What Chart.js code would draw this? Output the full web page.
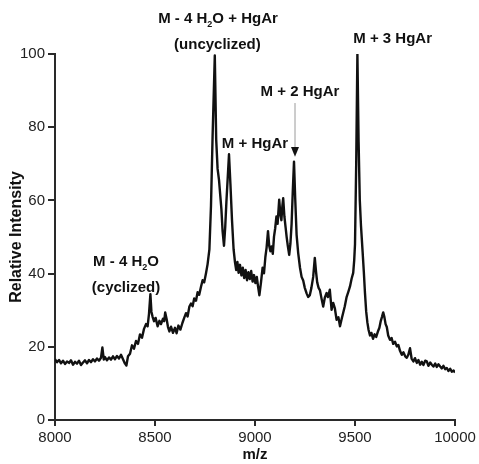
<!DOCTYPE html>
<html>
<head>
<meta charset="utf-8">
<script src="https://cdn.jsdelivr.net/npm/chart.js@4.4.0/dist/chart.umd.min.js"></script>
<style>
  html, body { margin: 0; padding: 0; background: #ffffff; }
  #wrap { width: 479px; height: 464px; }
</style>
</head>
<body>
<div id="wrap"><canvas id="c" width="479" height="464"></canvas></div>
<script>
// ---- data ----
const mzValues = [
  8000,8010,8020,8030,8040,8050,8060,8070,8080,8090,8100,8110,8120,8130,8140,8150,8160,8170,8180,8190,
  8200,8210,8220,8230,8237,8244,8250,8260,8270,8280,8290,8300,8310,8320,8330,8340,8350,8357,8365,8375,
  8385,8395,8405,8415,8425,8435,8445,8455,8463,8470,8477,8482,8488,8495,8503,8513,8522,8530,8540,8546,
  8551,8558,8565,8572,8580,8590,8600,8608,8617,8627,8637,8646,8655,8663,8672,8680,8688,8696,8705,8713,
  8721,8730,8738,8746,8755,8763,8772,8780,8788,8799,8806,8813,8820,8826,8832,8838,8845,8851,8857,8864,
  8870,8877,8885,8893,8900,8906,8912,8918,8925,8932,8939,8946,8953,8960,8967,8974,8981,8988,8995,9002,
  9009,9015,9022,9030,9038,9045,9052,9058,9065,9071,9077,9083,9089,9095,9101,9107,9113,9121,9127,9132,
  9137,9141,9147,9153,9158,9164,9171,9177,9183,9189,9195,9201,9208,9216,9225,9233,9241,9249,9258,9266,
  9274,9282,9291,9299,9305,9311,9318,9325,9333,9341,9349,9358,9365,9374,9383,9391,9399,9408,9417,9425,
  9433,9441,9449,9458,9467,9475,9483,9491,9496,9500,9506,9512,9518,9524,9530,9538,
  9544,9550,9556,9562,9568,9575,9582,9590,9598,9606,9614,9622,9629,9635,9641,9647,9653,9659,9666,9675,
  9683,9691,9700,9709,9717,9725,9734,9742,9751,9759,9767,9775,9783,9792,9800,9809,9817,9826,9834,9842,
  9851,9859,9867,9876,9884,9892,9901,9909,9917,9926,9934,9942,9951,9959,9967,9976,9984,9993,10000
];
const intensityValues = [
  16.6,15.8,16.4,15.5,16.2,15.3,16.0,15.6,16.3,15.1,15.9,15.4,16.2,15.0,15.7,16.3,15.5,16.4,15.8,16.6,
  16.0,16.8,16.2,17.0,19.8,16.5,17.2,16.3,17.1,16.5,17.4,16.6,17.5,16.8,17.8,16.6,15.4,14.9,17.4,18.1,
  20.4,19.5,21.6,20.8,23.4,22.5,24.9,26.2,25.6,29.0,34.4,29.6,28.2,27.0,27.9,25.6,27.1,26.2,27.7,27.0,
  29.4,27.6,25.4,24.2,25.5,23.8,25.2,23.7,25.8,24.7,26.5,27.9,29.2,28.3,31.0,31.8,31.1,33.2,32.6,34.9,
  34.2,36.4,38.2,37.6,40.1,42.6,46.6,58.6,77.6,99.6,76.6,68.6,65.6,61.6,57.6,51.6,47.6,52.6,59.6,66.6,
  72.6,64.6,54.6,46.6,43.1,41.0,43.2,40.2,42.4,39.5,41.6,38.8,41.0,38.2,40.4,38.5,40.7,37.8,39.6,37.4,
  39.1,36.6,34.1,37.6,41.6,40.1,44.6,47.1,51.6,47.6,46.1,47.4,45.4,50.1,52.4,55.6,53.6,60.2,56.1,54.6,
  58.6,60.6,55.6,52.6,50.1,47.6,45.1,48.1,53.6,62.6,70.6,60.6,50.6,45.6,41.6,39.1,38.1,36.1,34.6,33.6,
  34.1,36.1,39.1,44.3,40.6,37.6,36.1,35.4,33.1,31.0,33.4,34.7,33.6,35.6,30.1,32.0,30.6,27.4,28.1,25.6,
  27.5,29.3,31.1,33.6,35.1,36.5,38.6,40.2,43.6,48.0,70.0,100.0,76.0,60.0,53.0,46.0,
  40.6,34.6,29.6,26.6,24.6,23.1,23.8,22.2,23.4,22.7,24.1,25.2,27.1,28.2,29.4,28.1,26.2,25.4,23.1,21.9,
  22.4,20.8,21.4,20.1,20.5,18.9,17.8,18.5,17.4,17.0,17.9,19.6,16.8,16.0,16.9,15.6,16.4,15.1,15.9,15.0,
  16.2,16.0,14.8,15.7,15.1,14.6,15.4,14.5,15.2,14.6,14.1,14.8,13.9,14.2,13.4,14.0,13.2,13.5,13.0
];
const xTickValues = [8000, 8500, 9000, 9500, 10000];
const yTickValues = [0, 20, 40, 60, 80, 100];
const xTitle = 'm/z';
const yTitle = 'Relative Intensity';

// annotation labels: lines of rich text, anchor (m/z, intensity) = centre x, baseline y
const labelTexts = [
  [['M - 4 H', false], ['2', true], ['O', false]],
  [['(cyclized)', false]],
  [['M - 4 H', false], ['2', true], ['O + HgAr', false]],
  [['(uncyclized)', false]],
  [['M + HgAr', false]],
  [['M + 2 HgAr', false]],
  [['M + 3 HgAr', false]]
];
const labelMz = [8355, 8355, 8815, 8812, 9000, 9225, 9688];
const labelIntensity = [42.2, 35.1, 108.5, 101.4, 74.4, 88.5, 103.0];
// arrow pointing at M + 2 HgAr
const arrowMz = 9200;
const arrowFrom = 86.6, arrowTo = 74.6, arrowTip = 71.9;

const points = mzValues.map((m, i) => ({ x: m, y: intensityValues[i] }));
const FONT = "'Liberation Sans', Arial, Helvetica, sans-serif";
const AXIS_COLOR = '#2a2a2a';

const annotationPlugin = {
  id: 'specLabels',
  afterDraw(chart) {
    const ctx = chart.ctx;
    const xs = chart.scales.x, ys = chart.scales.y;
    ctx.save();
    ctx.fillStyle = '#111111';
    ctx.textBaseline = 'alphabetic';
    ctx.textAlign = 'left';
    const mainFont = 'bold 15px ' + FONT;
    const subFont = 'bold 9px ' + FONT;
    labelTexts.forEach((parts, i) => {
      let total = 0;
      parts.forEach(([t, sub]) => { ctx.font = sub ? subFont : mainFont; total += ctx.measureText(t).width; });
      const cx = xs.getPixelForValue(labelMz[i]);
      const by = ys.getPixelForValue(labelIntensity[i]);
      let x = cx - total / 2;
      parts.forEach(([t, sub]) => {
        ctx.font = sub ? subFont : mainFont;
        ctx.fillText(t, x, sub ? by + 4 : by);
        x += ctx.measureText(t).width;
      });
    });
    // arrow
    const ax = xs.getPixelForValue(arrowMz);
    const y1 = ys.getPixelForValue(arrowFrom), y2 = ys.getPixelForValue(arrowTo), y3 = ys.getPixelForValue(arrowTip);
    ctx.strokeStyle = '#9a9a9a';
    ctx.lineWidth = 1;
    ctx.beginPath();
    ctx.moveTo(ax, y1);
    ctx.lineTo(ax, y2);
    ctx.stroke();
    ctx.fillStyle = '#111111';
    ctx.beginPath();
    ctx.moveTo(ax - 4, y2);
    ctx.lineTo(ax + 4, y2);
    ctx.lineTo(ax, y3);
    ctx.closePath();
    ctx.fill();
    ctx.restore();
  }
};

new Chart(document.getElementById('c'), {
  type: 'line',
  data: {
    datasets: [{
      data: points,
      borderColor: '#111111',
      borderWidth: 2.4,
      borderJoinStyle: 'round',
      pointRadius: 0,
      tension: 0,
      fill: false
    }]
  },
  options: {
    responsive: false,
    animation: false,
    events: [],
    layout: { padding: { left: 0, right: 24, top: 54, bottom: 0 } },
    plugins: { legend: { display: false }, tooltip: { enabled: false } },
    scales: {
      x: {
        type: 'linear',
        min: 8000, max: 10000,
        afterBuildTicks(scale) { scale.ticks = xTickValues.map(v => ({ value: v })); },
        afterFit(scale) { scale.height = 44; },
        border: { display: true, color: AXIS_COLOR, width: 2 },
        grid: { display: true, drawOnChartArea: false, drawTicks: true, tickLength: 6, color: AXIS_COLOR, lineWidth: 2 },
        ticks: {
          color: '#222222', padding: 3, maxRotation: 0, autoSkip: false,
          font: { family: FONT, size: 15 },
          callback: v => String(v)
        },
        title: {
          display: true, text: xTitle, color: '#111111',
          font: { family: FONT, size: 15, weight: 'bold' },
          padding: { top: 0, bottom: 0 }
        }
      },
      y: {
        type: 'linear',
        min: 0, max: 100,
        afterBuildTicks(scale) { scale.ticks = yTickValues.map(v => ({ value: v })); },
        afterFit(scale) { scale.width = 55; },
        border: { display: true, color: AXIS_COLOR, width: 2 },
        grid: { display: true, drawOnChartArea: false, drawTicks: true, tickLength: 7, color: AXIS_COLOR, lineWidth: 2 },
        ticks: {
          color: '#222222', padding: 3, autoSkip: false,
          font: { family: FONT, size: 15 },
          callback: v => String(v)
        },
        title: {
          display: true, text: yTitle, color: '#111111',
          font: { family: FONT, size: 16, weight: 'bold' },
          padding: { top: 7, bottom: 0 }
        }
      }
    }
  },
  plugins: [annotationPlugin]
});
</script>
</body>
</html>
